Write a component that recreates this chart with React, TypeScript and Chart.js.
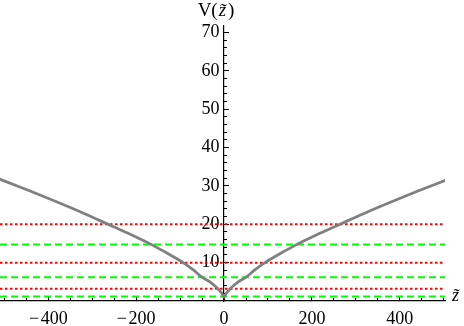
import React, { useEffect, useRef } from 'react';
import { Chart, registerables } from 'chart.js';

Chart.register(...registerables);

// Potential curve V(z̃)
const zValues = [-512, -505, -440, -380, -320, -264, -210, -165, -130, -93, -70, -50, -30, -14, -5, 0, 5, 14, 30, 50, 70, 93, 130, 165, 210, 264, 320, 380, 440, 505, 512];
const vValues = [31.8, 31.5, 28.6, 25.8, 22.9, 20.0, 17.2, 14.7, 12.5, 10.0, 8.1, 6.2, 4.8, 3.2, 2.0, 1.0, 2.0, 3.2, 4.8, 6.2, 8.1, 10.0, 12.5, 14.7, 17.2, 20.0, 22.9, 25.8, 28.6, 31.5, 31.8];

// Horizontal levels
const redLevels = [20, 10, 3.2];
const greenLevels = [14.7, 6.2, 1.15];

// Axis ranges and ticks
const X_MIN = -510;
const X_MAX = 503;
const Y_MIN = 0;
const Y_MAX = 71.7;
const xMajorTicks = [-400, -200, 0, 200, 400];
const xMinorTicks = [-500, -450, -400, -350, -300, -250, -200, -150, -100, -50, 0, 50, 100, 150, 200, 250, 300, 350, 400, 450, 500];
const yMajorTicks = [10, 20, 30, 40, 50, 60, 70];
const yMinorTicks = [2, 4, 6, 8, 10, 12, 14, 16, 18, 20, 22, 24, 26, 28, 30, 32, 34, 36, 38, 40, 42, 44, 46, 48, 50, 52, 54, 56, 58, 60, 62, 64, 66, 68, 70];

const FONT_FAMILY = "'Liberation Serif', 'Times New Roman', serif";

const labelPlugin = {
  id: 'axisLabels',
  afterDraw(chart: any) {
    const ctx = chart.ctx;
    const xs = chart.scales.x;
    const ys = chart.scales.y;
    const x0 = xs.getPixelForValue(0);
    const y0 = ys.getPixelForValue(0);
    const top = chart.chartArea.top;
    const right = chart.chartArea.right;
    ctx.save();
    ctx.fillStyle = '#000';
    ctx.textBaseline = 'alphabetic';
    ctx.textAlign = 'left';
    const upright = `19px ${FONT_FAMILY}`;
    const italic = `italic 19px ${FONT_FAMILY}`;
    ctx.font = upright;
    const w1 = ctx.measureText('V(').width;
    ctx.font = italic;
    const w2 = ctx.measureText('z\u0303').width;
    ctx.font = upright;
    const w3 = ctx.measureText(')').width;
    let tx = x0 - 8 - (w1 + w2 + w3 + 3) / 2;
    const ty = top - 10;
    ctx.font = upright;
    ctx.fillText('V(', tx, ty);
    tx += w1 + 1;
    ctx.font = italic;
    ctx.fillText('z\u0303', tx, ty);
    tx += w2 + 2;
    ctx.font = upright;
    ctx.fillText(')', tx, ty);
    ctx.font = `italic 18px ${FONT_FAMILY}`;
    ctx.fillText('z\u0303', right + 7, y0);
    ctx.restore();
  },
};

const tickFont = { family: FONT_FAMILY, size: 18 };
const setTicks = (values: number[]) => (s: any) => {
  s.ticks = values.map((v) => ({ value: v }));
};

export default function App() {
  const canvasRef = useRef<HTMLCanvasElement | null>(null);

  useEffect(() => {
    if (!canvasRef.current) return;
    const datasets: any[] = [];
    datasets.push({
      label: 'V',
      data: zValues.map((z, i) => ({ x: z, y: vValues[i] })),
      borderColor: '#808080',
      borderWidth: 2.8,
      pointRadius: 0,
      cubicInterpolationMode: 'monotone',
      order: 0,
    });
    redLevels.forEach((lv) => {
      datasets.push({
        label: 'red ' + lv,
        data: [{ x: X_MIN, y: lv }, { x: X_MAX, y: lv }],
        borderColor: '#ff0000',
        borderWidth: 2,
        borderDash: [2.5, 2.5],
        pointRadius: 0,
        order: 1,
      });
    });
    greenLevels.forEach((lv) => {
      datasets.push({
        label: 'green ' + lv,
        data: [{ x: X_MIN, y: lv }, { x: X_MAX, y: lv }],
        borderColor: '#00ff00',
        borderWidth: 2,
        borderDash: [7, 4],
        pointRadius: 0,
        order: 1,
      });
    });

    const chart = new Chart(canvasRef.current, {
      type: 'line',
      data: { datasets },
      options: {
        animation: false,
        responsive: false,
        events: [],
        layout: { padding: { left: 0, right: 19, top: 26, bottom: 25 } },
        plugins: { legend: { display: false }, tooltip: { enabled: false } },
        scales: {
          x: {
            type: 'linear',
            min: X_MIN,
            max: X_MAX,
            position: { y: 0 } as any,
            afterBuildTicks: setTicks(xMajorTicks),
            afterFit: (s: any) => { s.height = 0; },
            border: { color: '#000', width: 1.2 },
            grid: { drawOnChartArea: false, tickLength: -5, tickColor: '#000', tickWidth: 1 },
            ticks: {
              autoSkip: false,
              maxRotation: 0,
              padding: 12,
              color: '#000',
              font: tickFont,
              callback: (v: any) => (v < 0 ? '\u2212\u200A' + Math.abs(v) : String(v)),
            },
          },
          xm: {
            type: 'linear',
            min: X_MIN,
            max: X_MAX,
            position: { y: 0 } as any,
            afterBuildTicks: setTicks(xMinorTicks),
            afterFit: (s: any) => { s.height = 0; },
            border: { display: false },
            grid: { drawOnChartArea: false, tickLength: -3, tickColor: '#000', tickWidth: 1 },
            ticks: { autoSkip: false, display: false },
          },
          y: {
            type: 'linear',
            min: Y_MIN,
            max: Y_MAX,
            position: { x: 0 } as any,
            afterBuildTicks: setTicks(yMajorTicks),
            afterFit: (s: any) => { s.width = 0; },
            border: { color: '#000', width: 1.2 },
            grid: { drawOnChartArea: false, tickLength: -6, tickColor: '#000', tickWidth: 1 },
            ticks: {
              autoSkip: false,
              padding: 11,
              color: '#000',
              font: tickFont,
              callback: (v: any) => String(v) + ' ',
            },
          },
          ym: {
            type: 'linear',
            min: Y_MIN,
            max: Y_MAX,
            position: { x: 0 } as any,
            afterBuildTicks: setTicks(yMinorTicks),
            afterFit: (s: any) => { s.width = 0; },
            border: { display: false },
            grid: { drawOnChartArea: false, tickLength: -3, tickColor: '#000', tickWidth: 1 },
            ticks: { autoSkip: false, display: false },
          },
        },
      },
      plugins: [labelPlugin],
    } as any);
    return () => chart.destroy();
  }, []);

  return (
    <div style={{ position: 'fixed', left: 0, top: 0, width: 464, height: 326, background: '#fff' }}>
      <canvas ref={canvasRef} width={464} height={326} />
    </div>
  );
}
